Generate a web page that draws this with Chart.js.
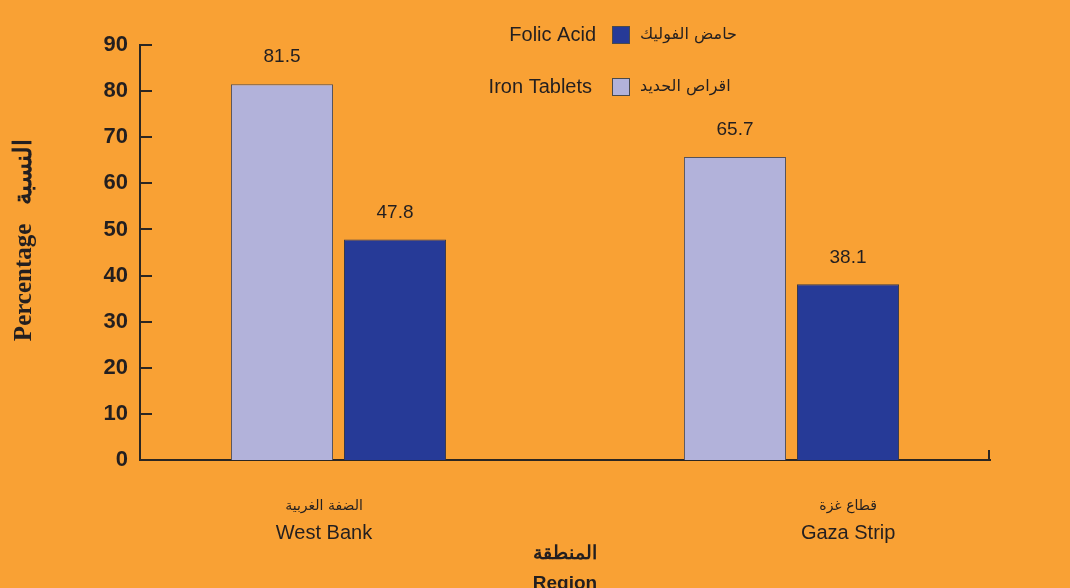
<!DOCTYPE html>
<html lang="ar">

<head>
    <meta charset="UTF-8">
    <title>Iron Tablets / Folic Acid by Region</title>
    <script src="https://cdn.jsdelivr.net/npm/chart.js"></script>
    <style>
        html, body { margin: 0; padding: 0; background: #F9A134; overflow: hidden; }
        .chart-container { width: 1070px; height: 600px; position: relative; }
    </style>
</head>

<body>
    <div class="chart-container">
        <canvas id="regionChart"></canvas>
    </div>

    <script>
        // dades
        const regionsEn = ['West Bank', 'Gaza Strip'];
        const regionsAr = ['الضفة الغربية', 'قطاع غزة'];
        const seriesEn = ['Iron Tablets', 'Folic Acid'];
        const seriesAr = ['اقراص الحديد', 'حامض الفوليك'];
        const ironValues = [81.5, 65.7];
        const folicValues = [47.8, 38.1];
        const yTicks = [0, 10, 20, 30, 40, 50, 60, 70, 80, 90];

        const textColor = '#231f20';
        const axisColor = '#2b2622';
        const sansFont = "'Liberation Sans', Arial, sans-serif";
        const colors = ['#B2B2DA', '#263A97'];

        // els rètols de regió no queden centrats sota les barres a l'original
        const labelShift = [-0.032, 0.125];

        const toPoints = values => values.map((v, i) => ({ x: i + 1, y: v }));
        const regionTicks = s => { s.ticks = regionsEn.map((_, i) => ({ value: i + 1 + labelShift[i] })); };
        const regionIndex = v => labelShift.findIndex((d, i) => Math.abs(i + 1 + d - v) < 1e-6);

        // marques de l'eix (ticks cap a dins)
        const axisMarks = {
            id: 'axisMarks',
            afterDraw(chart) {
                const ctx = chart.ctx;
                const area = chart.chartArea;
                const y = chart.scales.y;
                ctx.save();
                ctx.strokeStyle = axisColor;
                ctx.lineWidth = 2;
                ctx.beginPath();
                yTicks.forEach(v => {
                    const py = Math.round(y.getPixelForValue(v));
                    ctx.moveTo(area.left, py);
                    ctx.lineTo(area.left + 12, py);
                });
                ctx.moveTo(area.right - 1, area.bottom);
                ctx.lineTo(area.right - 1, area.bottom - 10);
                ctx.stroke();
                ctx.restore();
            }
        };

        // valors damunt les barres
        const valueLabels = {
            id: 'valueLabels',
            afterDatasetsDraw(chart) {
                const ctx = chart.ctx;
                ctx.save();
                ctx.font = '19px ' + sansFont;
                ctx.fillStyle = textColor;
                ctx.textAlign = 'center';
                ctx.textBaseline = 'middle';
                chart.data.datasets.forEach((ds, i) => {
                    chart.getDatasetMeta(i).data.forEach((bar, j) => {
                        ctx.fillText(ds.data[j].y.toFixed(1), bar.x, bar.y - 27);
                    });
                });
                ctx.restore();
            }
        };

        // llegenda amb text a banda i banda
        const twoSidedLegend = {
            id: 'twoSidedLegend',
            afterDraw(chart) {
                const ctx = chart.ctx;
                ctx.save();
                [1, 0].forEach((dsIndex, row) => {
                    const ds = chart.data.datasets[dsIndex];
                    const cy = 35 + row * 52;
                    ctx.fillStyle = ds.backgroundColor;
                    ctx.fillRect(612, cy - 9, 18, 18);
                    ctx.strokeStyle = '#4a4a4a';
                    ctx.lineWidth = 1;
                    ctx.strokeRect(612.5, cy - 8.5, 17, 17);
                    ctx.fillStyle = textColor;
                    ctx.textBaseline = 'middle';
                    ctx.font = '20px ' + sansFont;
                    ctx.textAlign = 'right';
                    ctx.fillText(ds.label, 596 - row * 4, cy);
                    ctx.font = "16px 'DejaVu Sans', sans-serif";
                    ctx.textAlign = 'left';
                    ctx.fillText(ds.labelAr, 640, cy);
                });
                ctx.restore();
            }
        };

        const ctx = document.getElementById('regionChart').getContext('2d');
        const chart = new Chart(ctx, {
            type: 'bar',
            data: {
                datasets: [{
                    label: seriesEn[0],
                    labelAr: seriesAr[0],
                    data: toPoints(ironValues),
                    backgroundColor: colors[0],
                    borderColor: '#55525a',
                    borderWidth: 1,
                    xAxisID: 'x'
                }, {
                    label: seriesEn[1],
                    labelAr: seriesAr[1],
                    data: toPoints(folicValues),
                    backgroundColor: colors[1],
                    borderColor: '#3a3a4a',
                    borderWidth: 1,
                    xAxisID: 'x'
                }]
            },
            options: {
                responsive: true,
                maintainAspectRatio: false,
                animation: false,
                categoryPercentage: 0.499,
                barPercentage: 0.903,
                layout: { padding: { top: 45, right: 80, left: 0, bottom: 0 } },
                plugins: {
                    legend: { display: false },
                    tooltip: { enabled: false }
                },
                scales: {
                    x: {
                        type: 'linear',
                        position: 'bottom',
                        weight: 0,
                        offset: false,
                        min: 0.5618,
                        max: 2.4382,
                        afterBuildTicks: regionTicks,
                        afterFit: s => { s.height = 58; },
                        grid: { display: false, drawTicks: false, offset: false },
                        border: { display: true, color: axisColor, width: 2 },
                        ticks: {
                            callback: v => regionsAr[regionIndex(v)],
                            font: { family: "'DejaVu Sans', sans-serif", size: 14 },
                            color: textColor,
                            padding: 38,
                            autoSkip: false,
                            maxRotation: 0
                        }
                    },
                    x2: {
                        type: 'linear',
                        position: 'bottom',
                        weight: 1,
                        offset: false,
                        min: 0.5618,
                        max: 2.4382,
                        afterBuildTicks: regionTicks,
                        afterFit: s => { s.height = 82; },
                        grid: { display: false, drawTicks: false, offset: false },
                        border: { display: false },
                        ticks: {
                            callback: v => regionsEn[regionIndex(v)],
                            font: { family: sansFont, size: 20 },
                            color: textColor,
                            padding: 3,
                            autoSkip: false,
                            maxRotation: 0
                        },
                        title: {
                            display: true,
                            text: ['المنطقة', 'Region'],
                            font: { family: sansFont, size: 19, weight: 'bold', lineHeight: 1.55 },
                            color: textColor,
                            padding: { top: 0, bottom: 2 }
                        }
                    },
                    y: {
                        min: 0,
                        max: 90,
                        afterBuildTicks: s => { s.ticks = yTicks.map(v => ({ value: v })); },
                        afterFit: s => { s.width = 140; },
                        grid: { display: false, drawTicks: false },
                        border: { display: true, color: axisColor, width: 2 },
                        ticks: {
                            font: { family: sansFont, size: 22, weight: 'bold' },
                            color: textColor,
                            padding: 12
                        },
                        title: {
                            display: true,
                            text: '    Percentage   النسبة',
                            font: { family: "'Liberation Serif', serif", size: 25, weight: 'bold' },
                            color: textColor,
                            padding: { top: 10, bottom: 0 }
                        }
                    }
                }
            },
            plugins: [axisMarks, valueLabels, twoSidedLegend]
        });
    </script>
</body>

</html>
